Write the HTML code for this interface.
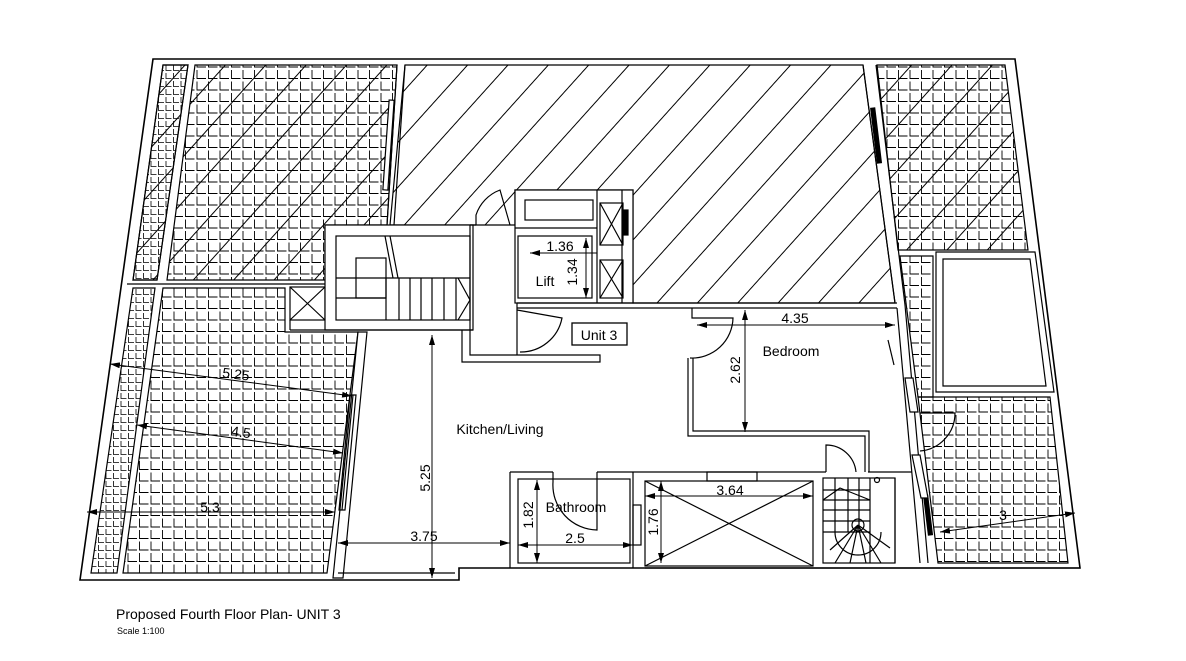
<!DOCTYPE html>
<html><head><meta charset="utf-8"><style>
html,body{margin:0;padding:0;background:#fff;}
svg{display:block;font-family:"Liberation Sans",sans-serif;}
</style></head><body>
<svg width="1186" height="661" viewBox="0 0 1186 661" xmlns="http://www.w3.org/2000/svg">
<defs>
<pattern id="tile" patternUnits="userSpaceOnUse" width="11.5" height="11.5">
<path d="M1.5 1 V9.5 H10.5" fill="none" stroke="#000" stroke-width="0.9"/>
</pattern>
<pattern id="tileS" patternUnits="userSpaceOnUse" width="7.5" height="8">
<path d="M1 1 V6.5 H6.5" fill="none" stroke="#000" stroke-width="0.8"/>
</pattern>
<pattern id="hatch" patternUnits="userSpaceOnUse" width="30" height="30" patternTransform="rotate(42)">
<line x1="1" y1="0" x2="1" y2="30" stroke="#000" stroke-width="1"/>
</pattern>
<marker id="ar" viewBox="0 0 10 6" refX="10" refY="3" markerWidth="10" markerHeight="6" orient="auto-start-reverse" markerUnits="userSpaceOnUse">
<path d="M0 0 L10 3 L0 6 Z" fill="#000"/>
</marker>
</defs>

<g fill="none" stroke="#000" stroke-width="1.2">
<path d="M153 59 L1015 59 L1080 568 L459 568 L459 580 L80 580 Z" stroke-width="1.6"/>

<polygon points="163,65 188,65 157,280 133,280" fill="url(#tileS)"/>
<polygon points="163,65 188,65 157,280 133,280" fill="url(#hatch)"/>
<polygon points="195,65 397,65 387,225 325,225 325,280 167,280" fill="url(#tile)"/>
<polygon points="195,65 397,65 387,225 325,225 325,280 167,280" fill="url(#hatch)" stroke="none"/>
<line x1="127" y1="284" x2="325" y2="284"/>
<polygon points="133,288 155,288 117,573 91,573" fill="url(#tileS)"/>
<polygon points="163,288 285,288 285,332 358,332 327,573 123,573" fill="url(#tile)"/>

<polygon points="405,65 863,65 895,303 633,303 633,190 515,190 515,225 390,225" fill="url(#hatch)"/>
<polygon points="877,65 1005,65 1028,250 898,250" fill="url(#tile)"/>
<polygon points="877,65 1005,65 1028,250 898,250" fill="url(#hatch)" stroke="none"/>
<polygon points="900,256 933,256 933,397 918,397" fill="url(#tile)"/>
<polygon points="918,397 1050,397 1068,563 938,563" fill="url(#tile)"/>
<polygon points="936,252 1035,252 1054,392 936,392" fill="#fff"/>
<polygon points="943,259 1030,259 1046,386 943,386"/>

<line x1="397" y1="65" x2="387" y2="225"/><line x1="405" y1="65" x2="394" y2="225"/>
<rect x="386" y="100" width="5" height="90" fill="#fff" transform="rotate(4 388 145)"/>
<line x1="863" y1="65" x2="895" y2="303"/><line x1="876" y1="65" x2="905" y2="305"/>
<rect x="874" y="108" width="4" height="55" fill="#000" transform="rotate(-7 876 135)"/>
<line x1="905" y1="305" x2="928" y2="563"/><line x1="897" y1="308" x2="920" y2="563"/>
<rect x="926" y="495" width="4" height="40" fill="#000" transform="rotate(-7 928 515)"/>
<polygon points="905,378 913,378 918,412 910,412" fill="#fff"/>
<polygon points="912,455 920,455 928,498 921,498" fill="#fff"/>
<path d="M920 413 L955 413 A38 38 0 0 1 920 451"/>
<line x1="888" y1="340" x2="894" y2="365"/>

<polygon points="358,332 367,332 343,578 333,578" fill="#fff"/>
<polygon points="350,395 356,395 345,510 339,510"/>
<line x1="353" y1="395" x2="342" y2="510"/>

<rect x="290" y="287" width="35" height="33" fill="#fff"/>
<line x1="290" y1="287" x2="325" y2="320"/><line x1="325" y1="287" x2="290" y2="320"/>
<rect x="325" y="225" width="148" height="105" fill="#fff"/>
<rect x="336" y="236" width="134" height="84"/>
<line x1="336" y1="278" x2="470" y2="278"/>
<rect x="356" y="258" width="30" height="40"/>
<line x1="386" y1="278" x2="386" y2="320"/><line x1="336" y1="298" x2="386" y2="298"/>
<path d="M399 278 V320 M410 278 V320 M421 278 V320 M432 278 V320 M444 278 V320 M456 278 V320"/>
<path d="M458 278 L470 300 L458 320"/>
<path d="M385 236 L393 278 M390 236 L398 278"/>
<line x1="290" y1="330" x2="473" y2="330"/>
<line x1="290" y1="320" x2="290" y2="330"/>
<path d="M470 225 V355 H517 M462 330 V362 H600 V355 H517 V310"/>
<path d="M470 225 H476 M517 225 V310"/>
<path d="M476 225 L476 215 A40 40 0 0 1 500 190 L510 225"/>
<rect x="515" y="190" width="118" height="113" fill="#fff"/>
<rect x="525" y="200" width="68" height="20"/>
<line x1="515" y1="228" x2="597" y2="228"/>
<rect x="518" y="236" width="74" height="62"/>
<line x1="597" y1="190" x2="597" y2="303"/><line x1="622" y1="190" x2="622" y2="303"/>
<rect x="600" y="203" width="23" height="42"/><path d="M600 203 L623 245 M623 203 L600 245"/>
<rect x="600" y="260" width="23" height="38"/><path d="M600 260 L623 298 M623 260 L600 298"/>
<rect x="624" y="210" width="4" height="25" fill="#000"/>
<line x1="517" y1="303" x2="897" y2="303"/><line x1="517" y1="308" x2="897" y2="308"/>
<path d="M517 310 L562 318 A42 42 0 0 1 520 352"/>
<rect x="572" y="323" width="55" height="22" stroke-width="1.3"/>

<path d="M692 308 V318 H700 M692 318 L733 318 A41 41 0 0 1 690 358"/>
<path d="M688 358 V436 H865 V472 M693 358 V431 H869 V472"/>
<path d="M826 472 V445 A30 30 0 0 1 856 472"/>

<path d="M510 472 V568 M510 472 H553 M597 472 H826 M633 472 V568 M868 472 H912"/>
<rect x="518" y="479" width="112" height="84"/>
<path d="M553 472 V482 A45 45 0 0 0 597 530 V472"/>
<rect x="633" y="505" width="8" height="40"/>
<rect x="645" y="481" width="168" height="85" fill="#fff"/>
<path d="M645 481 L813 566 M813 481 L645 566"/>
<rect x="707" y="472" width="50" height="9"/>
<rect x="823" y="478" width="72" height="85" fill="#fff"/>
<path d="M823 490 H870 M823 500 H870 M823 510 H870 M823 521 H870 M823 532 H870 M835 478 V532 M848 478 V532 M859 478 V532"/>
<path d="M823 500 L840 488 L870 500"/>
<circle cx="858" cy="525" r="6"/>
<path d="M835 532 A23 23 0 0 0 881 532 M858 525 L830 550 M858 525 L835 563 M858 525 L850 563 M858 525 L866 563 M858 525 L881 563 M858 525 L890 548"/>
<line x1="870" y1="478" x2="870" y2="563"/>
<circle cx="877" cy="480" r="2.5"/>
<line x1="645" y1="568" x2="1080" y2="568"/>
<line x1="338" y1="573" x2="455" y2="573"/>
<line x1="895" y1="478" x2="895" y2="563"/>

<g stroke-width="1">
<line x1="432" y1="335" x2="432" y2="578" marker-start="url(#ar)" marker-end="url(#ar)"/>
<line x1="338" y1="543" x2="510" y2="543" marker-start="url(#ar)" marker-end="url(#ar)"/>
<line x1="537" y1="480" x2="537" y2="563" marker-start="url(#ar)" marker-end="url(#ar)"/>
<line x1="518" y1="545" x2="633" y2="545" marker-start="url(#ar)" marker-end="url(#ar)"/>
<line x1="661" y1="481" x2="661" y2="563" marker-start="url(#ar)" marker-end="url(#ar)"/>
<line x1="645" y1="496" x2="813" y2="496" marker-start="url(#ar)" marker-end="url(#ar)"/>
<line x1="697" y1="325" x2="895" y2="325" marker-start="url(#ar)" marker-end="url(#ar)"/>
<line x1="745" y1="310" x2="745" y2="432" marker-start="url(#ar)" marker-end="url(#ar)"/>
<line x1="110" y1="364" x2="352" y2="396" marker-start="url(#ar)" marker-end="url(#ar)"/>
<line x1="137" y1="425" x2="343" y2="453" marker-start="url(#ar)" marker-end="url(#ar)"/>
<line x1="87" y1="512" x2="335" y2="512" marker-start="url(#ar)" marker-end="url(#ar)"/>
<line x1="940" y1="532" x2="1075" y2="513" marker-start="url(#ar)" marker-end="url(#ar)"/>
<line x1="530" y1="253" x2="597" y2="253" marker-start="url(#ar)"/>
<line x1="586" y1="238" x2="586" y2="298" marker-start="url(#ar)" marker-end="url(#ar)"/>
</g>
</g>

<g font-size="14" fill="#000">
<text x="500" y="434" text-anchor="middle">Kitchen/Living</text>
<text x="791" y="356" text-anchor="middle">Bedroom</text>
<text x="576" y="512" text-anchor="middle">Bathroom</text>
<text x="545" y="286" text-anchor="middle">Lift</text>
<text x="599" y="340" text-anchor="middle">Unit 3</text>
<text x="424" y="541" text-anchor="middle">3.75</text>
<text x="575" y="543" text-anchor="middle">2.5</text>
<text x="730" y="495" text-anchor="middle">3.64</text>
<text x="795" y="323" text-anchor="middle">4.35</text>
<text x="560" y="251" text-anchor="middle">1.36</text>
<text x="236" y="379" text-anchor="middle" transform="rotate(7 236 374)">5.25</text>
<text x="241" y="437" text-anchor="middle" transform="rotate(7 241 432)">4.5</text>
<text x="210" y="512" text-anchor="middle">5.3</text>
<text x="1003" y="520" text-anchor="middle">3</text>
<text transform="translate(430 478) rotate(-90)" text-anchor="middle">5.25</text>
<text transform="translate(533 515) rotate(-90)" text-anchor="middle">1.82</text>
<text transform="translate(658 522) rotate(-90)" text-anchor="middle">1.76</text>
<text transform="translate(740 370) rotate(-90)" text-anchor="middle">2.62</text>
<text transform="translate(577 272) rotate(-90)" text-anchor="middle">1.34</text>
<text x="116" y="619" font-size="14">Proposed Fourth Floor Plan- UNIT 3</text>
<text x="117" y="634" font-size="9">Scale 1:100</text>
</g>
</svg>
</body></html>
